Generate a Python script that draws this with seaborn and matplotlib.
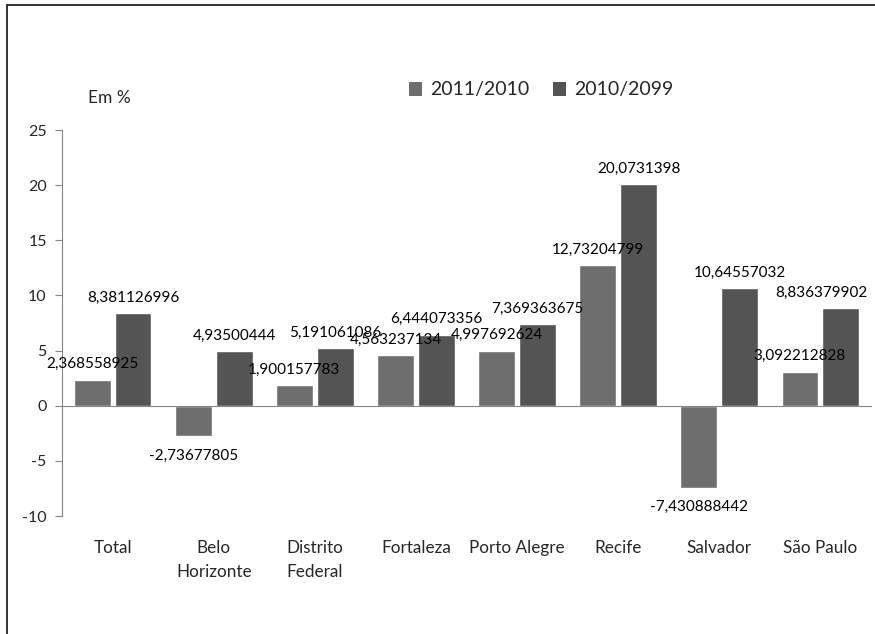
import matplotlib
matplotlib.use("Agg")
import matplotlib.pyplot as plt
import seaborn as sns
import pandas as pd
import numpy as np
from matplotlib.patches import Patch
from matplotlib.lines import Line2D

categories = ["Total", "Belo\nHorizonte", "Distrito\nFederal", "Fortaleza",
              "Porto Alegre", "Recife", "Salvador", "São Paulo"]
series_names = ["2011/2010", "2010/2099"]
values_2011_2010 = [2.368558925, -2.73677805, 1.900157783, 4.563237134,
                    4.997692624, 12.73204799, -7.430888442, 3.092212828]
values_2010_2099 = [8.381126996, 4.93500444, 5.191061086, 6.444073356,
                    7.369363675, 20.0731398, 10.64557032, 8.836379902]
y_ticks = [-10, -5, 0, 5, 10, 15, 20, 25]
colors = ["#6e6e6e", "#545454"]

sns.set_style("white")
plt.rcParams["font.family"] = ["Lato", "DejaVu Sans"]
plt.rcParams["axes.unicode_minus"] = False

df = pd.DataFrame({
    "Cidade": categories * 2,
    "Série": [series_names[0]] * len(categories) + [series_names[1]] * len(categories),
    "Valor": values_2011_2010 + values_2010_2099,
})

fig = plt.figure(figsize=(8.75, 6.34), dpi=100)
ax = fig.add_axes([62 / 875, 1 - 516 / 634, (871 - 62) / 875, (516 - 130) / 634])

sns.barplot(data=df, x="Cidade", y="Valor", hue="Série", order=categories,
            hue_order=series_names, palette=colors, width=0.81, gap=0.1,
            ax=ax, legend=False, saturation=1, errorbar=None)

def fmt(v):
    return str(v).replace(".", ",")

all_labels = []
for cont, vals in zip(ax.containers, [values_2011_2010, values_2010_2099]):
    pos_labels = [fmt(v) if v >= 0 else "" for v in vals]
    neg_labels = [fmt(v) if v < 0 else "" for v in vals]
    all_labels += ax.bar_label(cont, labels=pos_labels, padding=6, fontsize=11, color="black")
    all_labels += ax.bar_label(cont, labels=neg_labels, padding=9, fontsize=11, color="black")

ax.set_ylim(-10, 25)
ax.set_xlim(-0.5, 7.5)
ax.set_yticks(y_ticks)
ax.set_yticklabels([str(t) for t in y_ticks])
ax.set_xlabel("")
ax.set_ylabel("")

for s in ["top", "right"]:
    ax.spines[s].set_visible(False)
ax.spines["left"].set_color("#868686")
ax.spines["bottom"].set_color("#868686")
ax.spines["bottom"].set_position(("data", 0))

ax.set_xticks(np.arange(len(categories)))
ax.set_xticklabels(categories, linespacing=1.55)
ax.set_xticks(np.arange(len(categories)) + 0.5, minor=True)
ax.tick_params(axis="x", which="major", length=0, pad=97, labelsize=12.3)
ax.tick_params(axis="x", which="minor", length=6, direction="out", color="#868686", width=1)
ax.tick_params(axis="y", which="major", length=5, direction="out", color="#868686",
               labelsize=11.5, left=True, pad=6)

handles = [Patch(facecolor=c, edgecolor="none") for c in colors]
fig.legend(handles, series_names, loc="center", bbox_to_anchor=(541 / 875, 1 - 90 / 634),
           ncol=2, frameon=False, fontsize=14, handlelength=0.7, handleheight=0.7,
           handletextpad=0.4, columnspacing=1.2)

fig.text(88 / 875, 1 - 98 / 634, "Em %", ha="left", va="center", fontsize=12.5)

# outer frame (top and left edges visible in crop)
fig.add_artist(Line2D([7 / 875, 1.0], [1 - 5 / 634, 1 - 5 / 634], transform=fig.transFigure,
                      color="#222222", linewidth=1.3))
fig.add_artist(Line2D([7 / 875, 7 / 875], [0.0, 1 - 5 / 634], transform=fig.transFigure,
                      color="#222222", linewidth=1.3))

# keep data labels inside the plot area (as the original chart does)
fig.canvas.draw()
renderer = fig.canvas.get_renderer()
ax_right = ax.get_window_extent(renderer).x1
for ann in all_labels:
    if not ann.get_text():
        continue
    bb = ann.get_window_extent(renderer)
    overflow = bb.x1 - (ax_right - 4)
    if overflow > 0:
        dx, dy = ann.xyann
        ann.xyann = (dx - overflow * 72 / fig.dpi, dy)

fig.savefig("out.png", dpi=100)
